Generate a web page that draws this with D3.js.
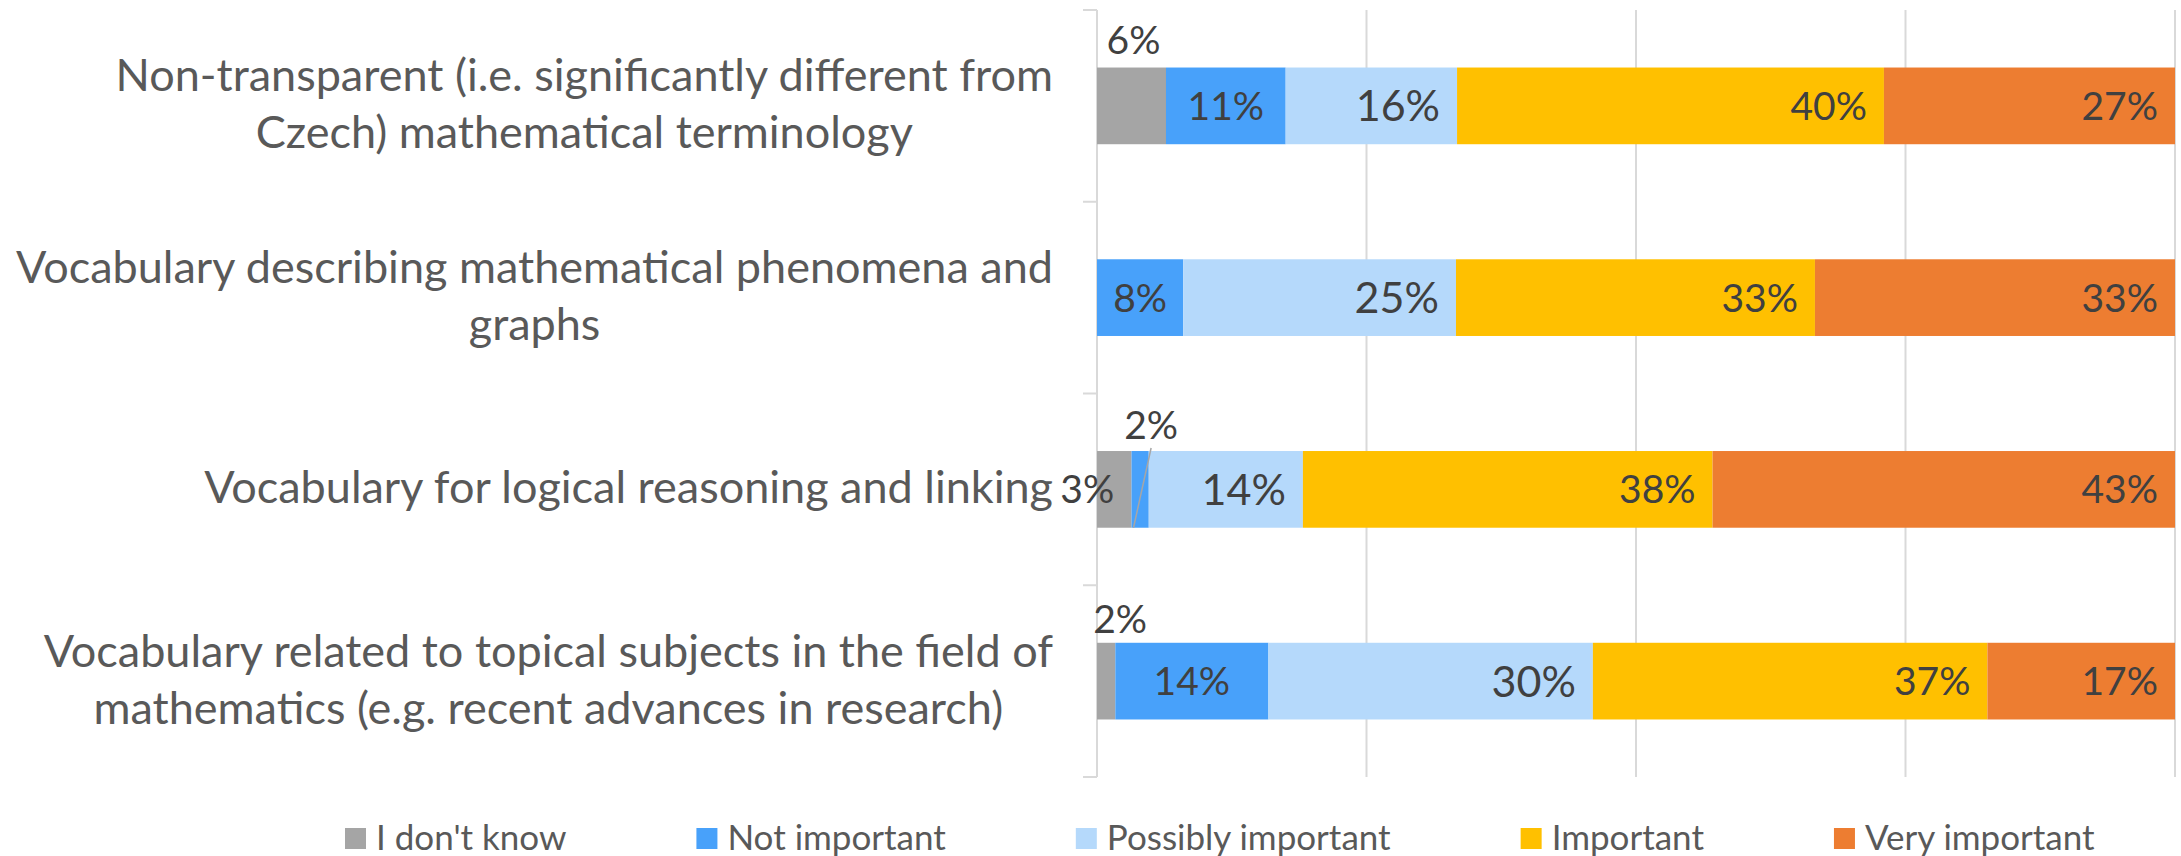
<!DOCTYPE html>
<html lang="en">
<head>
<meta charset="utf-8">
<script src="https://d3js.org/d3.v7.min.js"></script>
<style>
  body { margin: 0; background: #fff; }
  text { font-family: Lato, "Open Sans", sans-serif; }
</style>
</head>
<body>
<script>
// categories, top to bottom (each is a list of wrapped lines)
var categories = [
  ["Non-transparent (i.e. significantly different from", "Czech) mathematical terminology"],
  ["Vocabulary describing mathematical phenomena and", "graphs"],
  ["Vocabulary for logical reasoning and linking"],
  ["Vocabulary related to topical subjects in the field of", "mathematics (e.g. recent advances in research)"]
];
var seriesNames = ["I don't know", "Not important", "Possibly important", "Important", "Very important"];
var seriesColors = ["#a5a5a5", "#48a1fa", "#b5d9fb", "#ffc000", "#ed7d31"];

// shares in percent per category, same order as seriesNames
var dontKnow      = [6.4, 0,    3.2,  1.7];
var notImportant  = [11.1, 8.0, 1.6,  14.2];
var possiblyImp   = [15.9, 25.3, 14.3, 30.1];
var important     = [39.6, 33.3, 38.0, 36.6];
var veryImportant = [27.0, 33.4, 42.9, 17.4];

var xTicks = [0, 25, 50, 75, 100];

var w = 2181, h = 856;
var plotL = 1097, plotR = 2175, plotT = 10, plotB = 777;

var svg = d3.select("body").append("svg").attr("width", w).attr("height", h);

var series = [dontKnow, notImportant, possiblyImp, important, veryImportant];
var rows = categories.map(function(c, i) {
  var x0 = 0;
  return series.map(function(s, k) {
    var seg = {row: i, k: k, v: s[i], x0: x0, x1: x0 + s[i]};
    x0 += s[i];
    return seg;
  });
});

var x = d3.scaleLinear().domain([0, 100]).range([plotL, plotR]);
var y = d3.scaleBand().domain(d3.range(categories.length)).range([plotT, plotB])
  .paddingInner(0.6).paddingOuter(0.3);

// gridlines
svg.append("g").selectAll("line").data(xTicks).enter().append("line")
  .attr("x1", function(d) { return x(d); }).attr("x2", function(d) { return x(d); })
  .attr("y1", plotT).attr("y2", plotB)
  .attr("stroke", "#d9d9d9").attr("stroke-width", 2);

// category tick marks at band boundaries
svg.append("g").selectAll("line").data(d3.range(categories.length + 1)).enter().append("line")
  .attr("x1", plotL - 14).attr("x2", plotL)
  .attr("y1", function(i) { return plotT + i * y.step(); })
  .attr("y2", function(i) { return plotT + i * y.step(); })
  .attr("stroke", "#d9d9d9").attr("stroke-width", 2);

// bars
svg.append("g").selectAll("g").data(rows).enter().append("g")
  .selectAll("rect").data(function(d) { return d.filter(function(s) { return s.v > 0; }); })
  .enter().append("rect")
  .attr("x", function(d) { return x(d.x0); })
  .attr("width", function(d) { return x(d.x1) - x(d.x0); })
  .attr("y", function(d) { return y(d.row); })
  .attr("height", y.bandwidth())
  .attr("fill", function(d) { return seriesColors[d.k]; });

// category labels
var catG = svg.append("g").attr("fill", "#595959").attr("font-size", 45);
categories.forEach(function(lines, i) {
  var cy = y(i) + y.bandwidth() / 2;
  var t = catG.append("text").attr("text-anchor", "middle");
  lines.forEach(function(line, j) {
    t.append("tspan").attr("y", cy + 14 + (j - (lines.length - 1) / 2) * 57).text(line);
  });
  var maxW = 0;
  t.selectAll("tspan").each(function() { maxW = Math.max(maxW, this.getComputedTextLength()); });
  t.selectAll("tspan").attr("x", 1053 - maxW / 2);
});

// data labels
// labels that were moved out of small segments in the original
var moved = {
  "0-0": {dx: 2, dy: -14, anchor: "middle"},
  "2-0": {dx: 0, anchor: "end"},
  "2-1": {dx: 11, dy: -12, anchor: "middle", leader: true},
  "3-0": {dx: 14, dy: -10, anchor: "middle"}
};
var lab = svg.append("g").attr("fill", "#404040");
rows.forEach(function(r) {
  r.forEach(function(s) {
    if (s.v <= 0) return;
    var key = s.row + "-" + s.k;
    var cy = y(s.row) + y.bandwidth() / 2;
    var xc = (x(s.x0) + x(s.x1)) / 2;
    var txt = Math.round(s.v) + "%";
    var fs = s.k === 2 ? 43 : 39;
    var t = lab.append("text").attr("font-size", fs).text(txt);
    if (moved[key]) {
      var m = moved[key];
      t.attr("x", xc + m.dx).attr("text-anchor", m.anchor);
      if (m.dy !== undefined) t.attr("y", y(s.row) + m.dy);
      else t.attr("y", cy).attr("dy", "0.36em");
      if (m.leader) {
        lab.append("line")
          .attr("x1", xc + m.dx).attr("y1", y(s.row) - 3)
          .attr("x2", x(s.x0) + 2).attr("y2", y(s.row) + y.bandwidth())
          .attr("stroke", "#a6a6a6").attr("stroke-width", 1.5);
      }
    } else if (s.k === 1) {
      t.attr("x", xc).attr("y", cy).attr("dy", "0.36em").attr("text-anchor", "middle");
    } else {
      t.attr("x", x(s.x1) - 17).attr("y", cy).attr("dy", "0.36em").attr("text-anchor", "end");
    }
  });
});

// legend
var leg = svg.append("g").attr("font-size", 35).attr("fill", "#595959");
var lx = 345;
seriesNames.forEach(function(name, k) {
  leg.append("rect").attr("x", lx).attr("y", 828).attr("width", 21).attr("height", 21)
    .attr("fill", seriesColors[k]);
  var t = leg.append("text").attr("x", lx + 31).attr("y", 850).text(name);
  lx += 31 + t.node().getComputedTextLength() + 130;
});
</script>
</body>
</html>
